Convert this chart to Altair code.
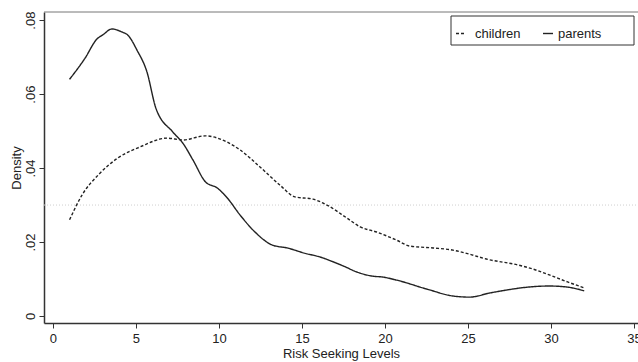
import altair as alt
import pandas as pd

# Kernel density estimates of risk seeking levels
SERIES = ["children", "parents"]

children_x = [1, 1.75, 2.83, 3.9, 5.24, 6.87, 7.83, 9.16, 10.5, 11.27, 12.47, 13.67,
              14.58, 15.66, 16.5, 17.7, 18.5, 19.5, 20.7, 21.5, 22.9, 24.1, 25.1,
              26.1, 28.0, 28.9, 29.9, 31, 32]
children_y = [0.0260, 0.0327, 0.0386, 0.0427, 0.0457, 0.0481, 0.0476, 0.0487, 0.0470,
              0.0449, 0.0403, 0.0354, 0.0322, 0.0316, 0.0300, 0.0265, 0.0241, 0.0227,
              0.0205, 0.0189, 0.0184, 0.0178, 0.0167, 0.0154, 0.0138, 0.0127, 0.0111,
              0.0092, 0.0076]

parents_x = [1, 1.93, 2.65, 3.0, 3.55, 4.15, 4.52, 5.06, 5.66, 6.2, 7.23, 7.83, 8.43,
             9.2, 9.9, 10.5, 11.27, 12.17, 13.2, 14.1, 15.3, 15.9, 16.9, 17.5, 18.3,
             19.2, 19.9, 20.7, 22.5, 24.1, 25.1, 26.3, 27.3, 28.6, 29.9, 31, 32]
parents_y = [0.0640, 0.0697, 0.0749, 0.0760, 0.0776, 0.0768, 0.0759, 0.0719, 0.0660,
             0.0562, 0.0497, 0.0467, 0.0422, 0.0362, 0.0346, 0.0319, 0.0273, 0.0227,
             0.0192, 0.0184, 0.0168, 0.0162, 0.0146, 0.0135, 0.0119, 0.0108, 0.0105,
             0.0097, 0.0073, 0.0054, 0.0051, 0.0062, 0.0070, 0.0078, 0.0081, 0.0078,
             0.0068]

x_ticks = [0, 5, 10, 15, 20, 25, 30, 35]
y_ticks = [0, 0.02, 0.04, 0.06, 0.08]
ref_level = 0.03

df = pd.concat([
    pd.DataFrame({"level": children_x, "density": children_y, "group": SERIES[0]}),
    pd.DataFrame({"level": parents_x, "density": parents_y, "group": SERIES[1]}),
])

FONT = "Liberation Sans"
W, H = 594, 311
INK = "#222222"

x_scale = alt.Scale(domain=[-0.54, 35.24], nice=False, zero=False)
y_scale = alt.Scale(domain=[-0.0019, 0.0822], nice=False, zero=False)

x_axis = alt.Axis(values=x_ticks, title="Risk Seeking Levels", grid=False,
                  tickSize=5, labelPadding=4, labelFontSize=13, titleFontSize=13,
                  titleFontWeight="normal", titleY=30, titleBaseline="middle",
                  labelFlush=False)
y_axis = alt.Axis(values=y_ticks, title="Density", grid=False, tickSize=5,
                  labelPadding=2, labelFontSize=13, labelAngle=270,
                  labelAlign="center", labelBaseline="bottom",
                  labelExpr="datum.value == 0 ? '0' : replace(format(datum.value, '.2f'), '0.', '.')",
                  titleFontSize=13, titleFontWeight="normal", titleAngle=270,
                  titleX=-28, titleY=H / 2, titleAlign="center", titleBaseline="middle")

lines = alt.Chart(df).mark_line(color=INK, strokeWidth=1.4, interpolate="monotone").encode(
    x=alt.X("level:Q", scale=x_scale, axis=x_axis),
    y=alt.Y("density:Q", scale=y_scale, axis=y_axis),
    strokeDash=alt.StrokeDash("group:N", scale=alt.Scale(domain=SERIES, range=[[3, 2], [1, 0]]),
                              legend=None),
    detail="group:N",
)

one = pd.DataFrame({"k": [0]})

ref = alt.Chart(one).mark_rule(color="#cfcfcf", strokeDash=[1, 2], strokeWidth=1).encode(
    y=alt.datum(ref_level, scale=y_scale), x=alt.value(0), x2=alt.value(W)
)

top_border = alt.Chart(one).mark_rule(color="#777777", strokeWidth=1).encode(
    x=alt.value(0), x2=alt.value(W), y=alt.value(0)
)

# legend box with a dashed and a solid key
legend_box = alt.Chart(one).mark_rect(fill="white", stroke="#333333", strokeWidth=1).encode(
    x=alt.value(407), x2=alt.value(590), y=alt.value(4), y2=alt.value(33)
)
key_children = alt.Chart(one).mark_rule(color=INK, strokeWidth=1.4, strokeDash=[3, 2]).encode(
    x=alt.value(412), x2=alt.value(421), y=alt.value(21.5)
)
key_parents = alt.Chart(one).mark_rule(color=INK, strokeWidth=1.4).encode(
    x=alt.value(499), x2=alt.value(509), y=alt.value(21.5)
)
lab_children = alt.Chart(one).mark_text(text=SERIES[0], align="left", baseline="alphabetic",
                                        font=FONT, fontSize=13, color=INK).encode(
    x=alt.value(431), y=alt.value(26)
)
lab_parents = alt.Chart(one).mark_text(text=SERIES[1], align="left", baseline="alphabetic",
                                       font=FONT, fontSize=13, color=INK).encode(
    x=alt.value(514), y=alt.value(26)
)

chart = alt.layer(
    ref, top_border, lines, legend_box, key_children, key_parents, lab_children, lab_parents
).properties(
    width=W, height=H,
    autosize=alt.AutoSizeParams(type="none"),
    padding={"left": 44, "top": 12, "right": 0, "bottom": 39},
    background="white",
).configure_view(stroke=None).configure_axis(
    labelFont=FONT, titleFont=FONT, labelColor=INK, titleColor=INK,
    domainColor="#333333", domainWidth=1.5, tickColor="#333333", tickWidth=1,
)

chart.save("out.html", embed_options={"renderer": "svg", "actions": False})
